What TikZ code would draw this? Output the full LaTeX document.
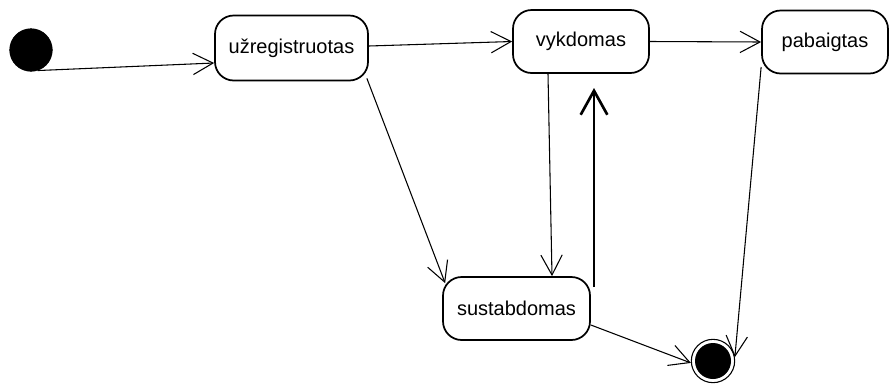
\documentclass[tikz,border=0pt]{standalone}
\usepackage{fontspec}
\setmainfont{Liberation Sans}
\usetikzlibrary{arrows.meta,calc}
\begin{document}
\begin{tikzpicture}[x=0.75pt,y=-0.75pt,
  state/.style={draw, line width=1.3pt, rounded corners=14pt, fill=white,
    inner sep=0pt, font=\fontsize{15}{18}\selectfont},
  trans/.style={draw, line width=0.8pt, -{Straight Barb[length=15pt,width=16pt,line width=0.8pt]}},
  bigtrans/.style={draw, line width=2pt, -{Straight Barb[length=18pt,width=20pt,line width=2pt]}}]
  \useasboundingbox (0,0) rectangle (889,383);

  % start and end pseudo-states
  \node (init) [circle, fill=black, draw, minimum size=32pt, inner sep=0pt] at (31,50) {};
  \node (final) [circle, draw, line width=0.8pt, fill=white, minimum size=32.5pt, inner sep=0pt] at (713,361) {};
  \fill (final.center) circle (13.5pt);

  % states
  \node (reg) [state, minimum width=114.75pt, minimum height=48.75pt] at (291.5,48) {užregistruotas};
  \node (vyk) [state, minimum width=102pt, minimum height=47.25pt] at (581,41.5) {vykdomas};
  \node (pab) [state, minimum width=94.5pt, minimum height=47.25pt] at (825,42) {pabaigtas};
  \node (sus) [state, minimum width=110.25pt, minimum height=47.25pt] at (516.5,308.5) {sustabdomas};

  % free ends of the resume arrow
  \coordinate (upfrom) at (594,287);
  \coordinate (upto) at (594,88);

  % transitions
  \draw[trans] (init.-72) -- ($(reg.west)+(0,15)$);
  \draw[trans] ($(reg.east)+(0,-2)$) -- (vyk.west);
  \draw[trans] (vyk.east) -- (pab.west);
  \draw[trans] ($(reg.south east)+(-2,-3)$) -- ($(sus.north west)+(3,7)$);
  \draw[trans] ($(vyk.south)+(-33,0)$) -- ($(sus.north)+(35.5,0)$);
  \draw[bigtrans] (upfrom) -- (upto);
  \draw[trans] ($(sus.east)+(0,16.5)$) -- (final.185);
  \draw[trans] ($(pab.west)+(0,25)$) -- (final.10);
\end{tikzpicture}
\end{document}
